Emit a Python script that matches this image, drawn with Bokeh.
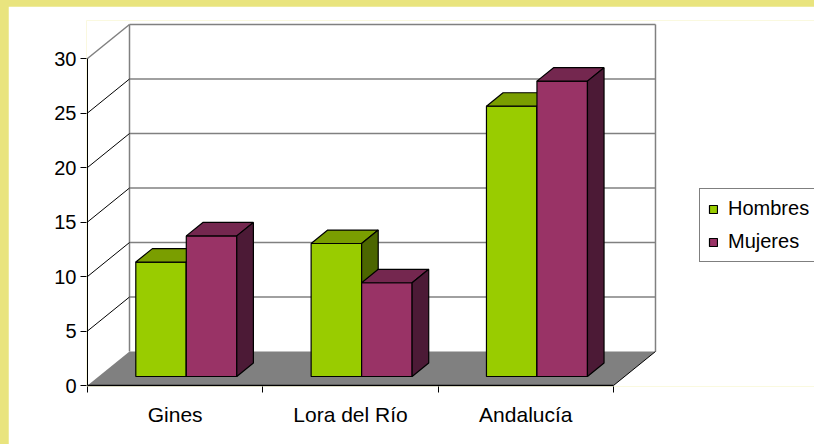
import re
from bokeh.plotting import figure
from bokeh.models import Range1d, FixedTicker, Legend, LegendItem
from bokeh.embed import file_html
from bokeh.resources import INLINE

# ---- data ----
categories = ["Gines", "Lora del Río", "Andalucía"]
series_names = ["Hombres", "Mujeres"]
hombres = [10.5, 12.2, 24.8]
mujeres = [12.9, 8.6, 27.1]
y_ticks = [0, 5, 10, 15, 20, 25, 30]

# ---- colours ----
front_cols = ["#99CC00", "#993366"]
top_cols = ["#7A9E00", "#74274F"]
side_cols = ["#4C6600", "#4C1A36"]
FONT = "Liberation Sans"

# ---- layout (pixels) ----
W, H = 806, 438
SX, SY = 175.33, 10.9          # px per category, px per value unit
ML, MB, MT = 78, 58, 14
x_start = -1.0 / SX
x_end = x_start + (W - ML) / SX
y_start = -1.0 / SY
y_end = y_start + (H - MB - MT) / SY

DX = 42.0 / SX                 # depth offset of the floor / back wall
DY = 34.0 / SY
F0, F1 = 0.265, 0.66           # bar depth fractions
BW = 0.288                     # bar width in category units
n = len(categories)
YMAX = y_ticks[-1]

p = figure(width=W, height=H, output_backend="svg", toolbar_location=None,
           x_range=Range1d(x_start, x_end), y_range=Range1d(y_start, y_end),
           min_border_left=ML, min_border_right=0, min_border_top=MT,
           min_border_bottom=MB)
p.grid.visible = False
p.outline_line_color = None
p.background_fill_color = "white"
p.border_fill_color = "white"

# back wall grid lines
gv = y_ticks[1:]
p.segment(x0=[DX] * len(gv), y0=[v + DY for v in gv], x1=[n + DX] * len(gv),
          y1=[v + DY for v in gv], line_color="#808080", line_width=1.5)
# back wall vertical edges
p.segment(x0=[DX, n + DX], y0=[DY, DY], x1=[DX, n + DX], y1=[YMAX + DY, YMAX + DY],
          line_color="#808080", line_width=1.5)
# side wall diagonals
sv = y_ticks[1:-1]
p.segment(x0=[0] * len(sv), y0=sv, x1=[DX] * len(sv), y1=[v + DY for v in sv],
          line_color="black", line_width=1)
p.segment(x0=[0], y0=[YMAX], x1=[DX], y1=[YMAX + DY], line_color="#808080", line_width=1.5)

# floor
p.patch([0, n, n + DX, DX], [0, 0, DY, DY], fill_color="#808080", line_color=None)
p.segment(x0=[0], y0=[0], x1=[n], y1=[0], line_color="black", line_width=1.5)
p.segment(x0=[n], y0=[0], x1=[n + DX], y1=[DY], line_color="black", line_width=1)
# front value axis line
p.segment(x0=[0], y0=[0], x1=[0], y1=[YMAX], line_color="black", line_width=1)

# bars
ddx = (F1 - F0) * DX
ddy = (F1 - F0) * DY
fronts = []
for j, vals in enumerate([hombres, mujeres]):
    lefts = [i + 0.5 - BW + j * BW + F0 * DX for i in range(n)]
    rights = [l + BW for l in lefts]
    bottoms = [F0 * DY] * n
    tops = [v + F0 * DY for v in vals]
    fr = p.quad(left=lefts, right=rights, bottom=bottoms, top=tops,
                fill_color=front_cols[j], line_color="black", line_width=1.2)
    fronts.append(fr)
    p.patches(xs=[[l, r, r + ddx, l + ddx] for l, r in zip(lefts, rights)],
              ys=[[t, t, t + ddy, t + ddy] for t in tops],
              fill_color=top_cols[j], line_color="black", line_width=1.2)
    p.patches(xs=[[r, r + ddx, r + ddx, r] for r in rights],
              ys=[[b, b + ddy, t + ddy, t] for b, t in zip(bottoms, tops)],
              fill_color=side_cols[j], line_color="black", line_width=1.2)

# axes
xa = p.xaxis[0]
xa.ticker = FixedTicker(ticks=[i + 0.5 for i in range(n)], minor_ticks=list(range(n + 1)))
xa.major_label_overrides = {i + 0.5: c for i, c in enumerate(categories)}
xa.axis_line_color = None
xa.major_tick_out = 0
xa.major_tick_in = 0
xa.minor_tick_out = 6
xa.minor_tick_in = 0
xa.minor_tick_line_color = "black"
xa.major_label_standoff = 10
xa.major_label_text_font = FONT
xa.major_label_text_font_size = "21px"
xa.major_label_text_color = "black"

ya = p.yaxis[0]
ya.ticker = FixedTicker(ticks=y_ticks, minor_ticks=[])
ya.axis_line_color = None
ya.major_tick_out = 6
ya.major_tick_in = 0
ya.major_tick_line_color = "black"
ya.major_label_standoff = 4
ya.major_label_text_font = FONT
ya.major_label_text_font_size = "20px"
ya.major_label_text_color = "black"

legend = Legend(items=[LegendItem(label=s, renderers=[fronts[k]]) for k, s in enumerate(series_names)],
                location=(613, 124), orientation="vertical",
                glyph_width=10, glyph_height=10, label_height=23, label_width=84,
                label_standoff=10, padding=8, spacing=10, margin=0,
                label_text_font=FONT, label_text_font_size="20px", label_text_color="black",
                border_line_color="black", border_line_width=1,
                background_fill_color="white", background_fill_alpha=1)
p.add_layout(legend)

html = file_html(p, INLINE, title="Hombres y Mujeres")
css = ("<style>html { background:#e9e47e !important; margin:0 !important; padding:0 !important; "
       "overflow:hidden; } body { background:#e9e47e !important; margin:0 !important; "
       "padding:6px 0 0 8px !important; overflow:hidden; }</style>")
html = re.sub(r"</head>", css + "</head>", html, count=1)
open("out.html", "w").write(html)
